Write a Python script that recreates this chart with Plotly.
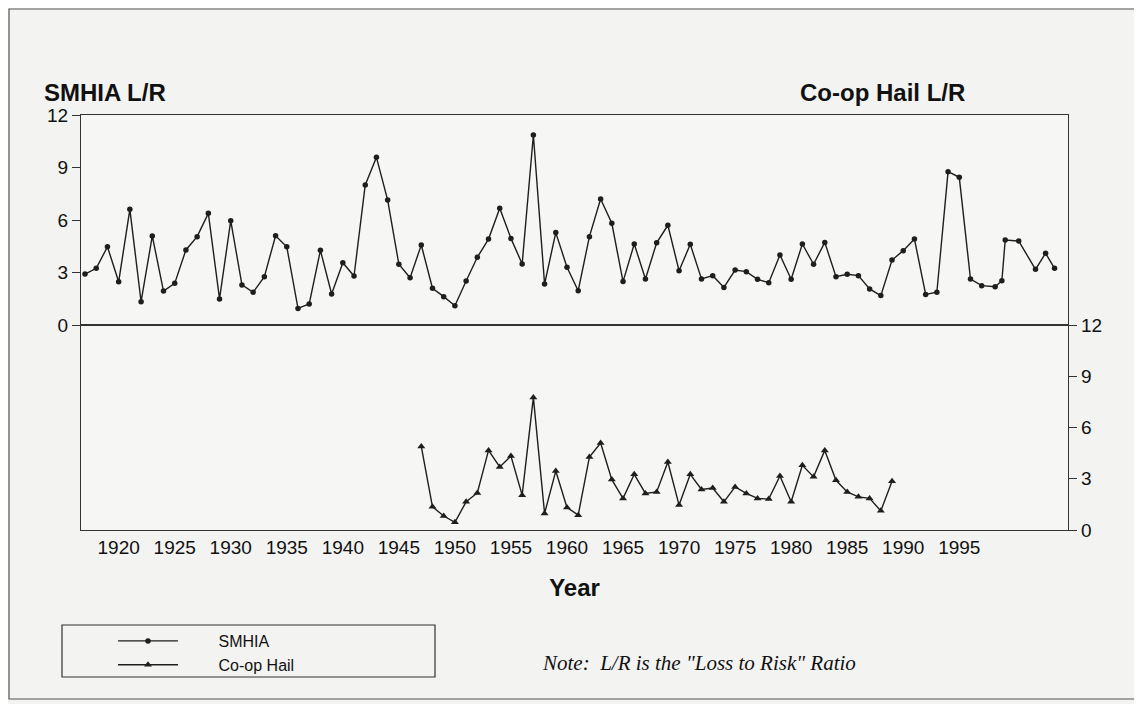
import plotly.graph_objects as go

# ---------------- data ----------------
smhia_years = list(range(1917, 1998)) + [1998.2, 1998.8, 1999.1, 2000.3, 2001.8, 2002.7, 2003.5]
smhia_lr = [
    2.91, 3.24, 4.47, 2.47, 6.61, 1.33, 5.09, 1.94, 2.38, 4.29,
    5.05, 6.38, 1.49, 5.96, 2.29, 1.87, 2.76, 5.10, 4.47, 0.95,
    1.20, 4.27, 1.77, 3.56, 2.80, 8.00, 9.58, 7.14, 3.47, 2.70,
    4.57, 2.10, 1.62, 1.10, 2.51, 3.87, 4.91, 6.67, 4.95, 3.49,
    10.86, 2.34, 5.28, 3.30, 1.96, 5.05, 7.20, 5.81, 2.48, 4.63,
    2.63, 4.70, 5.70, 3.10, 4.61, 2.63, 2.82, 2.15, 3.14, 3.05,
    2.61, 2.42, 4.00, 2.61, 4.63, 3.47, 4.72, 2.76, 2.90, 2.82,
    2.06, 1.68, 3.71, 4.25, 4.91, 1.75, 1.87, 8.76, 8.44, 2.63, 2.25,
    2.19, 2.53, 4.86, 4.80, 3.18, 4.10, 3.24,
]

coop_years = list(range(1947, 1990))
coop_lr = [
    4.89, 1.36, 0.82, 0.45, 1.65, 2.17, 4.66, 3.69, 4.33, 2.04,
    7.76, 0.97, 3.45, 1.32, 0.87, 4.27, 5.09, 2.95, 1.85, 3.26,
    2.14, 2.23, 3.98, 1.46, 3.26, 2.37, 2.46, 1.65, 2.52, 2.14,
    1.85, 1.81, 3.16, 1.65, 3.79, 3.11, 4.66, 2.91, 2.23, 1.94,
    1.85, 1.12, 2.85,
]

x_ticks = list(range(1920, 2000, 5))
y_ticks = [0, 3, 6, 9, 12]

# ---------------- layout geometry (page is offset by 8px body margin) ----------------
OFF = 8
W, H = 1142 - OFF, 704 - OFF
PL, PR, PT, PB = 81, 1068, 115, 530          # plot area in page pixels
L, T = PL - OFF, PT - OFF
R, B = W - (PR - OFF), H - (PB - OFF)
PW, PH = PR - PL, PB - PT
split = (PB - 325) / PH

def px(x):
    return (x - PL) / PW

def py(y):
    return (PB - y) / PH

INK = "#1e1e1e"
SANS = "Liberation Sans, Arial, sans-serif"
NB = "\u00a0" * 8

fig = go.Figure()

fig.add_trace(go.Scatter(
    x=smhia_years, y=smhia_lr, name=NB + "SMHIA", mode="lines+markers",
    line=dict(color=INK, width=1.4),
    marker=dict(symbol="circle", size=5.5, color=INK),
    xaxis="x2", yaxis="y2",
))
fig.add_trace(go.Scatter(
    x=coop_years, y=coop_lr, name=NB + "Co-op Hail", mode="lines+markers",
    line=dict(color=INK, width=1.4),
    marker=dict(symbol="triangle-up", size=7, color=INK),
    xaxis="x", yaxis="y",
))

axis_common = dict(showgrid=False, zeroline=False, showline=True,
                   linecolor="#333", linewidth=1.2)

fig.update_layout(
    width=W, height=H,
    margin=dict(l=L, r=R, t=T, b=B),
    paper_bgcolor="#f3f3f1",
    plot_bgcolor="#f6f6f4",
    font=dict(family=SANS, color="#111"),
    showlegend=True,
    legend=dict(
        x=px(113), y=py(624), xanchor="left", yanchor="top",
        bgcolor="rgba(0,0,0,0)", borderwidth=0,
        font=dict(family=SANS, size=16, color="#111"),
        itemwidth=60, tracegroupgap=0,
        traceorder="normal",
    ),
    xaxis=dict(
        **axis_common, range=[1916.64, 2004.7], anchor="y", mirror=True,
        tickvals=x_ticks, ticks="", tickfont=dict(size=19, family=SANS),
        title=dict(text="<b>Year</b>", font=dict(size=24, family=SANS), standoff=22),
    ),
    xaxis2=dict(
        **axis_common, range=[1916.64, 2004.7], anchor="y2", matches="x",
        showticklabels=False, ticks="", mirror=True,
    ),
    yaxis=dict(
        **axis_common, domain=[0, split], range=[0, 12], side="right",
        tickvals=y_ticks, ticks="outside", ticklen=8, tickcolor="#333",
        tickfont=dict(size=19, family=SANS), anchor="x", mirror=True,
    ),
    yaxis2=dict(
        **axis_common, domain=[split, 1], range=[0, 12], side="left",
        tickvals=y_ticks, ticks="outside", ticklen=8, tickcolor="#333",
        tickfont=dict(size=19, family=SANS), anchor="x2", mirror=True,
    ),
)

# outer frame and legend box
fig.add_shape(type="rect", xref="paper", yref="paper",
              x0=px(9), x1=px(1135), y0=py(699), y1=py(9),
              line=dict(color="#555", width=1.2), fillcolor="rgba(0,0,0,0)", layer="below")
fig.add_shape(type="rect", xref="paper", yref="paper",
              x0=px(62), x1=px(435), y0=py(677), y1=py(625),
              line=dict(color="#333", width=1.2), fillcolor="rgba(0,0,0,0)")

fig.add_annotation(text="<b>SMHIA L/R</b>", xref="paper", yref="paper",
                   x=px(42), y=py(93), xanchor="left", yanchor="middle",
                   showarrow=False, font=dict(size=24, family=SANS, color="#111"))
fig.add_annotation(text="<b>Co-op Hail L/R</b>", xref="paper", yref="paper",
                   x=px(798), y=py(93), xanchor="left", yanchor="middle",
                   showarrow=False, font=dict(size=24, family=SANS, color="#111"))
fig.add_annotation(text="<i>Note:  L/R is the \"Loss to Risk\" Ratio</i>", xref="paper", yref="paper",
                   x=px(540), y=py(663), xanchor="left", yanchor="middle",
                   showarrow=False, font=dict(size=21, family="Liberation Serif, Times New Roman, serif", color="#111"))

fig.write_html("out.html")
